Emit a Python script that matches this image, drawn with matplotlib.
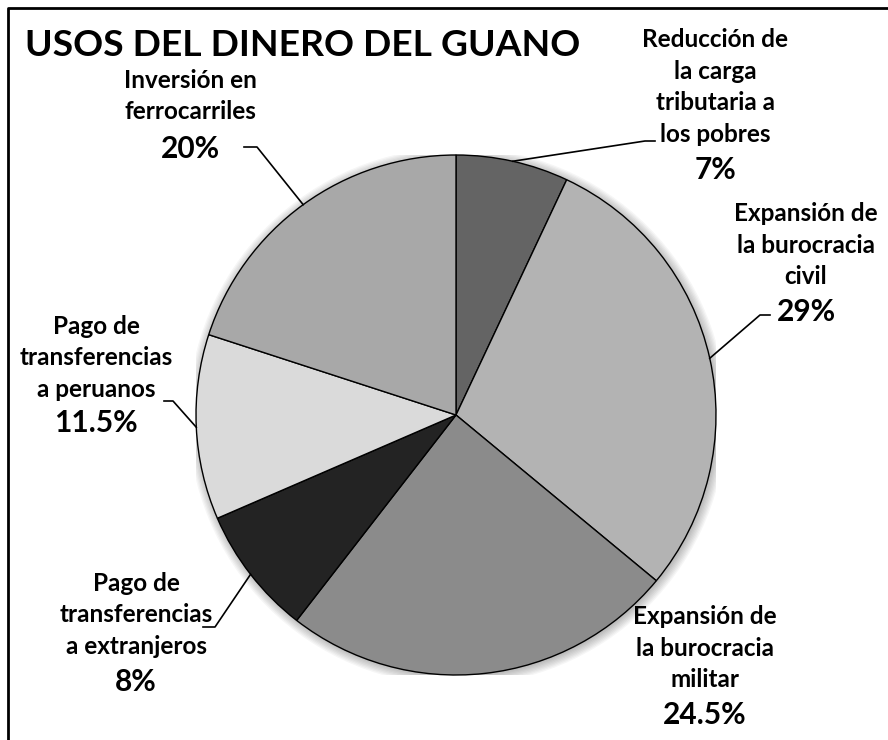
import matplotlib
matplotlib.use("Agg")
from matplotlib import pyplot as plt
from matplotlib.lines import Line2D
from matplotlib.patches import Circle
import numpy as np

# data
names = [
    "Reducción de\nla carga\ntributaria a\nlos pobres",
    "Expansión de\nla burocracia\ncivil",
    "Expansión de\nla burocracia\nmilitar",
    "Pago de\ntransferencias\na extranjeros",
    "Pago de\ntransferencias\na peruanos",
    "Inversión en\nferrocarriles",
]
values = [7, 29, 24.5, 8, 11.5, 20]
pct_labels = ["7%", "29%", "24.5%", "8%", "11.5%", "20%"]
colors = ["#646464", "#b3b3b3", "#8b8b8b", "#232323", "#dadada", "#a8a8a8"]

W, H = 888, 740
FONT = ["Lato", "DejaVu Sans"]


def px(x, y):
    return (x / W, 1 - y / H)


fig = plt.figure(figsize=(W / 100, H / 100), dpi=100)
ax = fig.add_axes([196 / W, 65 / H, 520 / W, 520 / H])

# soft shadow
for k in range(8):
    ax.add_patch(Circle((0.006, -0.006), 1.0 + k * 0.005, color="black",
                        alpha=0.035, lw=0, zorder=0))

wedges, _ = ax.pie(values, colors=colors, startangle=90, counterclock=False,
                   wedgeprops=dict(edgecolor="black", linewidth=1.0))
ax.set_xlim(-1, 1)
ax.set_ylim(-1, 1)
ax.axis("off")

# label layout (pixel coords): name center x, name block center y, pct y
label_pos = [
    (715, 87, 170),
    (806, 245, 312),
    (705, 648, 715),
    (136, 615, 682),
    (96, 358, 423),
    (190, 96, 149),
]
for name, pct, (lx, ly, py) in zip(names, pct_labels, label_pos):
    fig.text(*px(lx, ly), name, ha="center", va="center", fontsize=17.5,
             fontweight="bold", family=FONT, linespacing=1.46)
    fig.text(*px(lx, py), pct, ha="center", va="center", fontsize=21.5,
             fontweight="bold", family=FONT)

# leader lines: elbow and end points in pixels, start on the wedge edge
leaders = {
    0: [(645, 141), (655, 141)],
    1: [(760, 315), (770, 315)],
    3: [(215, 627), (203, 627)],
    4: [(173, 401), (164, 401)],
    5: [(257, 147), (244, 147)],
}
to_fig = fig.transFigure.inverted()
for i, pts in leaders.items():
    w = wedges[i]
    ang = np.deg2rad((w.theta1 + w.theta2) / 2)
    start = to_fig.transform(ax.transData.transform((np.cos(ang), np.sin(ang))))
    xs = [start[0]] + [px(*p)[0] for p in pts]
    ys = [start[1]] + [px(*p)[1] for p in pts]
    fig.add_artist(Line2D(xs, ys, color="black", lw=1.2,
                          transform=fig.transFigure))

fig.text(*px(25, 46), "USOS DEL DINERO DEL GUANO", ha="left", va="center",
         fontsize=26.8, fontweight="bold", family=FONT)

# frame (left and top edges)
fig.add_artist(Line2D([8 / W, 8 / W, 1], [0, 1 - 8 / H, 1 - 8 / H],
                      color="black", lw=2, transform=fig.transFigure))

fig.savefig("out.png", dpi=100)
plt.close(fig)
